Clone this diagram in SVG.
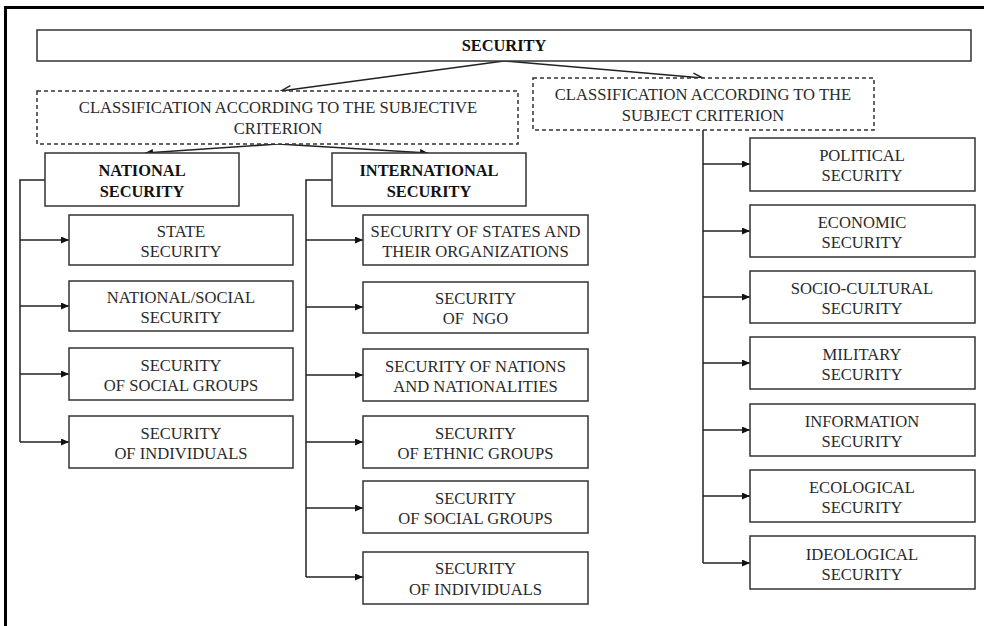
<svg xmlns="http://www.w3.org/2000/svg" width="984" height="626" viewBox="0 0 984 626">
<defs>
<marker id="fa" viewBox="0 0 8 7" refX="8" refY="3.5" markerWidth="8" markerHeight="7" markerUnits="userSpaceOnUse" orient="auto">
<path d="M0,0 L8,3.5 L0,7 Z" fill="#111"/>
</marker>
<marker id="oa" viewBox="0 0 12 10" refX="11" refY="5" markerWidth="12" markerHeight="10" markerUnits="userSpaceOnUse" orient="auto">
<path d="M1,1 L11,5 L1,9" fill="none" stroke="#222" stroke-width="1.4"/>
</marker>
<style>
.box{fill:#fff;stroke:#333;stroke-width:1.5}
.dash{fill:#fff;stroke:#333;stroke-width:1.5;stroke-dasharray:4 3}
.t{font-family:"Liberation Serif","Times New Roman",serif;font-size:16.6px;fill:#2a2a2a;text-anchor:middle}
.b{font-family:"Liberation Serif","Times New Roman",serif;font-size:16.4px;font-weight:bold;fill:#111;text-anchor:middle}
.c{fill:none;stroke:#222;stroke-width:1.5}
</style>
</defs>
<rect x="0" y="0" width="984" height="626" fill="#fff"/>
<path d="M5.5,626 V7.5 H984" fill="none" stroke="#000" stroke-width="3"/>

<g id="connectors">
<path class="c" d="M504,61 L281,91" marker-end="url(#oa)"/>
<path class="c" d="M504,61 L703,78" marker-end="url(#oa)"/>
<path class="c" d="M278,144 L145,153" marker-end="url(#fa)"/>
<path class="c" d="M278,144 L428,153" marker-end="url(#fa)"/>
<path class="c" d="M45,180 H20 V442"/>
<path class="c" d="M20,240 H69" marker-end="url(#fa)"/>
<path class="c" d="M20,306 H69" marker-end="url(#fa)"/>
<path class="c" d="M20,374 H69" marker-end="url(#fa)"/>
<path class="c" d="M20,442 H69" marker-end="url(#fa)"/>
<path class="c" d="M332,180 H306 V577"/>
<path class="c" d="M306,240 H363" marker-end="url(#fa)"/>
<path class="c" d="M306,307 H363" marker-end="url(#fa)"/>
<path class="c" d="M306,375 H363" marker-end="url(#fa)"/>
<path class="c" d="M306,442 H363" marker-end="url(#fa)"/>
<path class="c" d="M306,508 H363" marker-end="url(#fa)"/>
<path class="c" d="M306,577 H363" marker-end="url(#fa)"/>
<path class="c" d="M703,130 V563"/>
<path class="c" d="M703,164 H750" marker-end="url(#fa)"/>
<path class="c" d="M703,231 H750" marker-end="url(#fa)"/>
<path class="c" d="M703,297 H750" marker-end="url(#fa)"/>
<path class="c" d="M703,363 H750" marker-end="url(#fa)"/>
<path class="c" d="M703,430 H750" marker-end="url(#fa)"/>
<path class="c" d="M703,496 H750" marker-end="url(#fa)"/>
<path class="c" d="M703,563 H750" marker-end="url(#fa)"/>
</g>

<g id="security">
<rect class="box" x="37" y="30" width="934" height="31"/>
<text class="b" x="504" y="51">SECURITY</text>
</g>
<g id="subjective">
<rect class="dash" x="37" y="91" width="481" height="53"/>
<text class="t" x="278" y="113">CLASSIFICATION ACCORDING TO THE SUBJECTIVE</text>
<text class="t" x="278" y="134">CRITERION</text>
</g>
<g id="subject">
<rect class="dash" x="533" y="78" width="341" height="52"/>
<text class="t" x="703" y="100">CLASSIFICATION ACCORDING TO THE</text>
<text class="t" x="703" y="121">SUBJECT CRITERION</text>
</g>

<g id="national">
<rect class="box" x="45" y="153" width="194" height="53"/>
<text class="b" x="142" y="176">NATIONAL</text>
<text class="b" x="142" y="197">SECURITY</text>
</g>
<g id="international">
<rect class="box" x="332" y="153" width="194" height="53"/>
<text class="b" x="429" y="176">INTERNATIONAL</text>
<text class="b" x="429" y="197">SECURITY</text>
</g>

<g id="n1"><rect class="box" x="69" y="215" width="224" height="50"/>
<text class="t" x="181" y="237">STATE</text><text class="t" x="181" y="257">SECURITY</text></g>
<g id="n2"><rect class="box" x="69" y="281" width="224" height="50"/>
<text class="t" x="181" y="303">NATIONAL/SOCIAL</text><text class="t" x="181" y="323">SECURITY</text></g>
<g id="n3"><rect class="box" x="69" y="348" width="224" height="52"/>
<text class="t" x="181" y="371">SECURITY</text><text class="t" x="181" y="391">OF SOCIAL GROUPS</text></g>
<g id="n4"><rect class="box" x="69" y="416" width="224" height="52"/>
<text class="t" x="181" y="439">SECURITY</text><text class="t" x="181" y="459">OF INDIVIDUALS</text></g>

<g id="i1"><rect class="box" x="363" y="215" width="225" height="50"/>
<text class="t" x="475.5" y="237" textLength="210" lengthAdjust="spacing">SECURITY OF STATES AND</text><text class="t" x="475.5" y="257">THEIR ORGANIZATIONS</text></g>
<g id="i2"><rect class="box" x="363" y="282" width="225" height="51"/>
<text class="t" x="475.5" y="304">SECURITY</text><text class="t" x="475.5" y="324" style="white-space:pre">OF  NGO</text></g>
<g id="i3"><rect class="box" x="363" y="349" width="225" height="52"/>
<text class="t" x="475.5" y="372">SECURITY OF NATIONS</text><text class="t" x="475.5" y="392">AND NATIONALITIES</text></g>
<g id="i4"><rect class="box" x="363" y="416" width="225" height="52"/>
<text class="t" x="475.5" y="439">SECURITY</text><text class="t" x="475.5" y="459">OF ETHNIC GROUPS</text></g>
<g id="i5"><rect class="box" x="363" y="481" width="225" height="52"/>
<text class="t" x="475.5" y="504">SECURITY</text><text class="t" x="475.5" y="524">OF SOCIAL GROUPS</text></g>
<g id="i6"><rect class="box" x="363" y="552" width="225" height="52"/>
<text class="t" x="475.5" y="574">SECURITY</text><text class="t" x="475.5" y="595">OF INDIVIDUALS</text></g>

<g id="s1"><rect class="box" x="750" y="138" width="225" height="53"/>
<text class="t" x="862" y="161">POLITICAL</text><text class="t" x="862" y="181">SECURITY</text></g>
<g id="s2"><rect class="box" x="750" y="205" width="225" height="52"/>
<text class="t" x="862" y="228">ECONOMIC</text><text class="t" x="862" y="248">SECURITY</text></g>
<g id="s3"><rect class="box" x="750" y="271" width="225" height="52"/>
<text class="t" x="862" y="294">SOCIO-CULTURAL</text><text class="t" x="862" y="314">SECURITY</text></g>
<g id="s4"><rect class="box" x="750" y="337" width="225" height="52"/>
<text class="t" x="862" y="360">MILITARY</text><text class="t" x="862" y="380">SECURITY</text></g>
<g id="s5"><rect class="box" x="750" y="404" width="225" height="52"/>
<text class="t" x="862" y="427">INFORMATION</text><text class="t" x="862" y="447">SECURITY</text></g>
<g id="s6"><rect class="box" x="750" y="470" width="225" height="52"/>
<text class="t" x="862" y="493">ECOLOGICAL</text><text class="t" x="862" y="513">SECURITY</text></g>
<g id="s7"><rect class="box" x="750" y="536" width="225" height="53"/>
<text class="t" x="862" y="560">IDEOLOGICAL</text><text class="t" x="862" y="580">SECURITY</text></g>
</svg>
